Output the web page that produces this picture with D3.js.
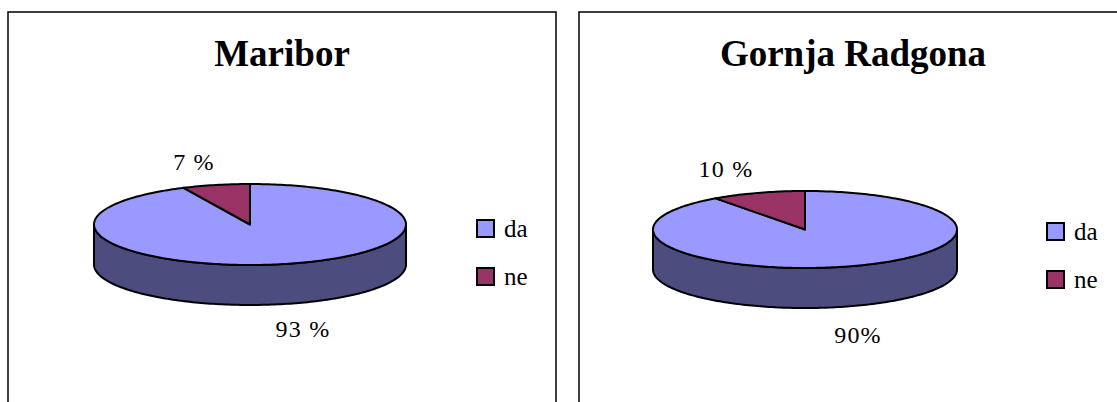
<!DOCTYPE html>
<html><head><meta charset="utf-8">
<script src="https://cdn.jsdelivr.net/npm/d3@7"></script>
<style>
body{margin:0;background:#fff;}
svg{display:block;}
</style></head>
<body>
<svg id="chart" width="1117" height="402"></svg>
<script>
// ---- data ----
const categories = ["da", "ne"];
const titles = ["Maribor", "Gornja Radgona"];
const mariborValues = [93, 7];
const radgonaValues = [90, 10];
const mariborLabels = ["93 %", "7 %"];
const radgonaLabels = ["90%", "10 %"];

// ---- styles / layout ----
const topColors = ["#9999FF", "#993366"];
const sideColors = ["#4C4C7F", "#5C1F3D"];
const FONT = '"Liberation Serif","Times New Roman",serif';

const panels = [
  {x: 8, w: 548, title: titles[0], values: mariborValues, labels: mariborLabels,
   cx: 250, cy: 224.5, rx: 156, ry: 40.5, depth: 40,
   labelOff: [[53, 112.5], [-56, -55]], legendX: 476, legendY: 219},
  {x: 579, w: 548, title: titles[1], values: radgonaValues, labels: radgonaLabels,
   cx: 805, cy: 229.5, rx: 152, ry: 38.5, depth: 40,
   labelOff: [[53, 113], [-79, -53]], legendX: 1046, legendY: 222}
];

const svg = d3.select("#chart");

const pie = d3.pie().sort(null).startAngle(0).endAngle(2 * Math.PI);

function pt(p, a, dy) {
  return [p.cx + p.rx * Math.sin(a), p.cy - p.ry * Math.cos(a) + (dy || 0)];
}
function arcPts(p, a0, a1, dy) {
  const n = Math.max(2, Math.ceil(Math.abs(a1 - a0) / 0.02));
  return d3.range(n + 1).map(i => pt(p, a0 + (a1 - a0) * i / n, dy));
}

panels.forEach(p => {
  const g = svg.append("g");
  g.append("rect").attr("x", p.x).attr("y", 12).attr("width", p.w).attr("height", 420)
    .attr("fill", "none").attr("stroke", "#000").attr("stroke-width", 1.5);

  g.append("text").attr("x", p.x + p.w / 2).attr("y", 66)
    .attr("text-anchor", "middle").style("font-family", FONT)
    .attr("font-weight", "bold").attr("font-size", 37).text(p.title);

  const arcs = pie(p.values);
  const line = d3.line();

  arcs.forEach((d, i) => {
    const a0 = Math.max(d.startAngle, Math.PI / 2);
    const a1 = Math.min(d.endAngle, 3 * Math.PI / 2);
    if (a1 <= a0) return;
    const topPts = arcPts(p, a0, a1, 0);
    const botPts = arcPts(p, a1, a0, p.depth);
    g.append("path").attr("d", line(topPts.concat(botPts)) + "Z")
      .attr("fill", sideColors[i]).attr("stroke", "#000").attr("stroke-width", 2)
      .attr("stroke-linejoin", "round");
  });

  arcs.forEach((d, i) => {
    const pts = [[p.cx, p.cy]].concat(arcPts(p, d.startAngle, d.endAngle, 0));
    g.append("path").attr("d", line(pts) + "Z")
      .attr("fill", topColors[i]).attr("stroke", "#000").attr("stroke-width", 2)
      .attr("stroke-linejoin", "round");
  });

  arcs.forEach((d, i) => {
    g.append("text").attr("x", p.cx + p.labelOff[i][0]).attr("y", p.cy + p.labelOff[i][1])
      .attr("text-anchor", "middle").style("font-family", FONT).attr("font-size", 24)
      .attr("letter-spacing", 1.2)
      .text(p.labels[i]);
  });

  categories.forEach((c, i) => {
    const ly = p.legendY + i * 48;
    g.append("rect").attr("x", p.legendX + 1).attr("y", ly + 1).attr("width", 17).attr("height", 17)
      .attr("fill", topColors[i]).attr("stroke", "#000").attr("stroke-width", 2);
    g.append("text").attr("x", p.legendX + 28).attr("y", ly + 18)
      .style("font-family", FONT).attr("font-size", 25).text(c);
  });
});
</script>
</body></html>
